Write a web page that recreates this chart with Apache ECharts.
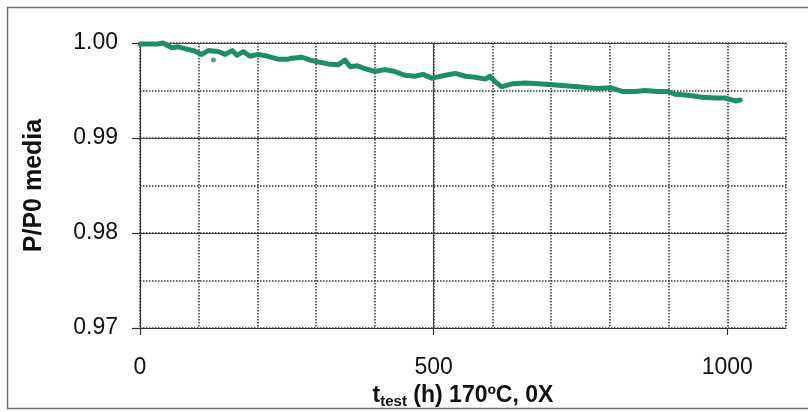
<!DOCTYPE html>
<html>
<head>
<meta charset="utf-8">
<script src="https://cdn.jsdelivr.net/npm/echarts@6/dist/echarts.min.js"></script>
<style>
  html, body { margin: 0; padding: 0; background: #fff; }
  #chart { width: 808px; height: 412px; }
</style>
</head>
<body>
<div id="chart"></div>
<script>
// Test time (h) and normalised mean power P/P0
const testHours = [0, 10, 22, 30, 39, 54, 65, 77, 91, 105, 116, 133, 145, 157, 165, 176, 187, 201, 218, 235,
  252, 259, 276, 290, 304, 320, 337, 349, 358, 370, 383, 400, 417, 434, 451, 468, 482, 497, 520, 537,
  554, 571, 588, 596, 605, 616, 634, 656, 678, 702, 724, 746, 763, 780, 801, 821, 843, 860, 881, 899,
  911, 934, 957, 980, 997, 1014, 1022];
const powerRatio = [0.9999, 0.9999, 0.9999, 0.9999, 1.0000, 0.9995, 0.9996, 0.9994, 0.9992, 0.9988,
  0.9992, 0.9991, 0.9988, 0.9992, 0.9987, 0.9991, 0.9986, 0.9988, 0.9986, 0.9983,
  0.9983, 0.9984, 0.9985, 0.9982, 0.9980, 0.9978, 0.9977, 0.9982, 0.9975, 0.9976,
  0.9973, 0.9970, 0.9972, 0.9970, 0.9966, 0.9965, 0.9967, 0.9963, 0.9966, 0.9968,
  0.9965, 0.9964, 0.9962, 0.9965, 0.9959, 0.9954, 0.9957, 0.9958, 0.9957, 0.9956,
  0.9955, 0.9954, 0.9953, 0.9952, 0.9953, 0.9949, 0.9949, 0.9950, 0.9949, 0.9949,
  0.9946, 0.9945, 0.9943, 0.9942, 0.9942, 0.9939, 0.9940];
// Isolated reading below the curve
const strayHours = [125];
const strayRatio = [0.9982];

// Labelled ticks
const xMajorTicks = [0, 500, 1000];
const yMajorTicks = [0.97, 0.98, 0.99, 1.00];

const lineColor = '#1f8d68';
const textFont = 'Arial, "Liberation Sans", sans-serif';

const chart = echarts.init(document.getElementById('chart'), null, { renderer: 'canvas' });

const hiddenAxisParts = {
  axisLine: { show: false },
  axisTick: { show: false },
  axisLabel: { show: false }
};
const dottedGrid = { color: '#333', type: 'dotted', width: 1.5 };
const solidGrid = { color: '#444', width: 1.2 };

chart.setOption({
  animation: false,
  backgroundColor: '#fff',
  textStyle: { fontFamily: textFont },
  graphic: [{
    type: 'rect',
    shape: { x: 7.5, y: 7.5, width: 820, height: 401 },
    style: { fill: 'none', stroke: '#6e6e6e', lineWidth: 1.5 },
    silent: true, z: 0
  }],
  grid: { left: 140, top: 43, right: 22, bottom: 84, containLabel: false, outerBoundsMode: 'none' },
  xAxis: [{
    // minor dotted grid every 100 h
    type: 'value', min: 0, max: 1100, interval: 100, position: 'bottom',
    ...hiddenAxisParts,
    splitLine: { show: true, lineStyle: dottedGrid }
  }, {
    // major axis: solid grid, ticks and labels
    type: 'value', min: 0, max: 1100, interval: 500, position: 'bottom',
    axisLine: { show: true, onZero: false, lineStyle: { color: '#333', width: 1.2 } },
    axisTick: { show: true, customValues: xMajorTicks, length: 7, lineStyle: { color: '#333', width: 1.2 } },
    axisLabel: {
      customValues: xMajorTicks, margin: 28, fontSize: 23, color: '#111', fontFamily: textFont,
      formatter: v => String(v)
    },
    splitLine: { show: true, showMinLine: false, showMaxLine: false, lineStyle: solidGrid },
    name: '{b|t}{s|test}{b| (h) 170ºC, 0X}',
    nameLocation: 'middle', nameGap: 54,
    nameTextStyle: {
      rich: {
        b: { fontSize: 23, fontWeight: 'bold', color: '#111', fontFamily: textFont },
        s: { fontSize: 15, fontWeight: 'bold', color: '#111', fontFamily: textFont, padding: [12, 0, 0, 0] }
      }
    }
  }],
  yAxis: [{
    // minor dotted grid every 0.005
    type: 'value', min: 0.97, max: 1.0, interval: 0.005, position: 'left',
    ...hiddenAxisParts,
    splitLine: { show: true, lineStyle: dottedGrid }
  }, {
    type: 'value', min: 0.97, max: 1.0, interval: 0.01, position: 'left',
    axisLine: { show: true, onZero: false, lineStyle: { color: '#333', width: 1.2 } },
    axisTick: { show: true, customValues: yMajorTicks, length: 8, lineStyle: { color: '#333', width: 1.2 } },
    axisLabel: {
      customValues: yMajorTicks, margin: 22, fontSize: 23, color: '#111', fontFamily: textFont,
      formatter: v => v.toFixed(2)
    },
    splitLine: { show: true, showMinLine: false, lineStyle: solidGrid },
    name: 'P/P0 media',
    nameLocation: 'middle', nameGap: 93,
    nameTextStyle: { fontSize: 25, fontWeight: 'bold', color: '#111', fontFamily: textFont }
  }],
  series: [{
    type: 'line',
    xAxisIndex: 1, yAxisIndex: 1,
    data: testHours.map((t, i) => [t, powerRatio[i]]),
    showSymbol: false, symbol: 'none', clip: false,
    lineStyle: { color: lineColor, width: 5, join: 'round', cap: 'round' },
    z: 5
  }, {
    type: 'scatter',
    xAxisIndex: 1, yAxisIndex: 1,
    data: strayHours.map((t, i) => [t, strayRatio[i]]),
    symbol: 'circle', symbolSize: 5,
    itemStyle: { color: lineColor },
    z: 5
  }]
});
</script>
</body>
</html>
